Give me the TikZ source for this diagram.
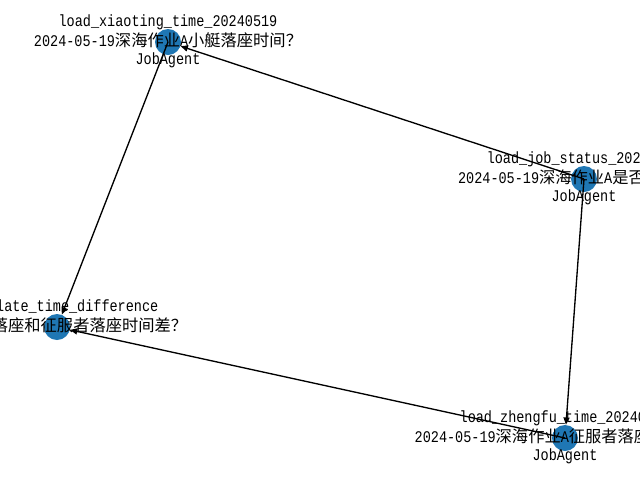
\documentclass[tikz,border=0pt]{standalone}
\usepackage{fontspec}
\setmainfont{Liberation Mono}[FakeStretch=0.83]
\newfontfamily\cjk{Noto Sans CJK SC}
\usetikzlibrary{arrows.meta}
\definecolor{nodeblue}{HTML}{1F77B4}

\begin{document}
\begin{tikzpicture}[x=0.75pt,y=-0.75pt,
  dot/.style={circle,fill=nodeblue,inner sep=0pt,minimum size=19.5pt},
  lbl/.style={align=center,inner sep=0pt,font=\fontsize{12.2}{13.6}\selectfont},
  edge/.style={line width=1pt,-{Triangle[length=5.5pt,width=4.5pt]}}]
\useasboundingbox (0,0) rectangle (640,480);
\clip (0,0) rectangle (640,480);
% agent nodes
\node[dot] (xt) at (168,42) {};
\node[dot] (js) at (584,179) {};
\node[dot] (cd) at (57,327) {};
\node[dot] (zf) at (565,438) {};
% edges
\draw[edge] (js.center) -- (xt);
\draw[edge] (xt.center) -- (cd);
\draw[edge] (js.center) -- (zf);
\draw[edge] (zf.center) -- (cd);
% labels
\node[lbl] (xt-lbl) at (xt) {\strut load\_xiaoting\_time\_20240519\\
  \strut 2024-05-19{\cjk 深海作业}A{\cjk 小艇落座时间？}\\ \strut JobAgent};
\node[lbl] (js-lbl) at (js) {\strut load\_job\_status\_20240519\\
  \strut 2024-05-19{\cjk 深海作业}A{\cjk 是否已完成？}\\ \strut JobAgent};
\node[lbl,yshift=6.8pt] (cd-lbl) at (cd) {\strut calculate\_time\_difference\\
  \strut {\cjk 计算小艇落座和征服者落座时间差？}};
\node[lbl] (zf-lbl) at (zf) {\strut load\_zhengfu\_time\_20240519\\
  \strut 2024-05-19{\cjk 深海作业}A{\cjk 征服者落座时间为？}\\ \strut JobAgent};
\end{tikzpicture}
\end{document}
